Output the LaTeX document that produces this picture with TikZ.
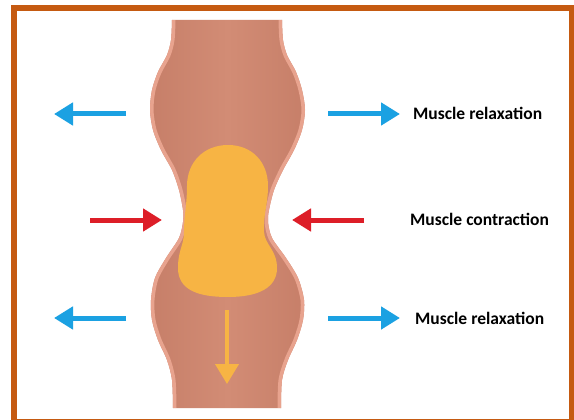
\documentclass[tikz,border=0pt]{standalone}
\usepackage{fontspec}
\setmainfont{Carlito}
\usetikzlibrary{arrows.meta}

\definecolor{frame}{RGB}{197,90,17}
\definecolor{tubeedge}{RGB}{197,125,103}
\definecolor{tubemid}{RGB}{210,140,117}
\definecolor{tuberim}{RGB}{232,163,142}
\definecolor{bolus}{RGB}{247,180,68}
\definecolor{relaxblue}{RGB}{27,161,226}
\definecolor{contractred}{RGB}{221,30,40}

\tikzset{
  x=1pt, y=-1pt,
  label text/.style={anchor=west, inner sep=0pt, font=\fontsize{17.5}{20}\selectfont\bfseries},
  bluearrow/.style={draw=relaxblue, line width=5pt,
    -{Triangle[length=19pt,width=22pt]}},
  redarrow/.style={draw=contractred, line width=5pt,
    -{Triangle[length=19pt,width=22pt]}},
  flowarrow/.style={draw=bolus, line width=4pt,
    -{Triangle[length=20pt,width=23pt]}},
}

% outline of the walls: left wall top to bottom, right wall bottom to top
\def\leftwall{(172,20) (171,40) (167,55) (158,72) (152,90) (150,110) (153,130)
  (161,150) (172,170) (179,190) (183,210) (183,222) (179,238) (166,258)
  (155,278) (151,300) (152,320) (158,340) (167,360) (172,380) (173,408)}
\def\rightwall{(281,408) (282,380) (288,360) (297,340) (303,320) (304,300)
  (298,278) (286,258) (272,238) (268,222) (269,210) (274,190) (283,170)
  (294,150) (302,130) (305,110) (302,90) (296,72) (287,55) (283,40) (282,20)}

\begin{document}
\begin{tikzpicture}
  % page and frame
  \fill[white] (0,0) rectangle (574,420);
  \useasboundingbox (0,0) rectangle (574,420);
  \draw[frame, line width=6pt] (14,8) rectangle (572,422);

  % the tube
  \begin{scope}
    \clip plot[smooth] coordinates {\leftwall}
       -- plot[smooth] coordinates {\rightwall} -- cycle;
    \shade[left color=tubeedge, right color=tubeedge, middle color=tubemid]
      (140,15) rectangle (315,412);
    % lighter rim along both walls
    \draw[tuberim, line width=7pt] plot[smooth] coordinates {\leftwall};
    \draw[tuberim, line width=7pt] plot[smooth] coordinates {\rightwall};
  \end{scope}

  % food bolus
  \fill[bolus]
    (228,145)
    .. controls (252,145) and (268,162) .. (268,186)
    .. controls (268,205) and (263,215) .. (264,232)
    .. controls (265,245) and (277,250) .. (277,268)
    .. controls (277,288) and (258,297) .. (228,297)
    .. controls (198,297) and (178,290) .. (178,268)
    .. controls (178,250) and (184,245) .. (184,232)
    .. controls (184,215) and (187,205) .. (187,186)
    .. controls (187,162) and (204,145) .. (228,145) -- cycle;

  % direction of travel
  \coordinate (flowA) at (227,310);
  \coordinate (flowB) at (227,384);
  \draw[flowarrow] (flowA) -- (flowB);

  % upper relaxation arrows
  \coordinate (ulA) at (126,114);
  \coordinate (ulB) at (54,114);
  \coordinate (urA) at (328,114);
  \coordinate (urB) at (400,114);
  \draw[bluearrow] (ulA) -- (ulB);
  \draw[bluearrow] (urA) -- (urB);

  % contraction arrows
  \coordinate (clA) at (90,220);
  \coordinate (clB) at (162,220);
  \coordinate (crA) at (364,220);
  \coordinate (crB) at (292,220);
  \draw[redarrow] (clA) -- (clB);
  \draw[redarrow] (crA) -- (crB);

  % lower relaxation arrows
  \coordinate (llA) at (126,318);
  \coordinate (llB) at (54,318);
  \coordinate (lrA) at (328,318);
  \coordinate (lrB) at (400,318);
  \draw[bluearrow] (llA) -- (llB);
  \draw[bluearrow] (lrA) -- (lrB);

  % labels
  \node[label text] (relaxTop) at (413,113) {Muscle relaxation};
  \node[label text] (contract) at (410,219) {Muscle contraction};
  \node[label text] (relaxBot) at (415,318) {Muscle relaxation};
\end{tikzpicture}
\end{document}
